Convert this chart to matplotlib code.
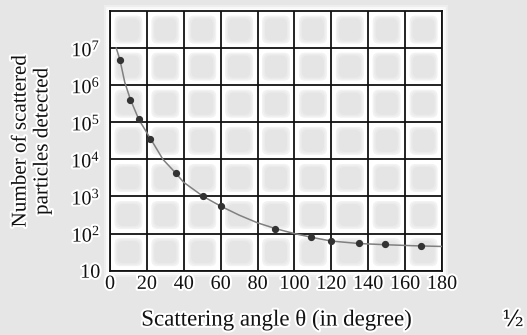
import numpy as np
import matplotlib
matplotlib.use("Agg")
import matplotlib.pyplot as plt
import matplotlib.patheffects as pe
from matplotlib.patches import FancyBboxPatch, Rectangle

# measured points (scattering angle in degree, counts)
theta_obs = [5.4, 11, 15.6, 21.9, 35.6, 50.6, 60, 89.6, 109, 119.7, 135.2, 149.3, 168.5]
n_obs = [4.8e6, 3.9e5, 1.2e5, 3.5e4, 4.3e3, 1.0e3, 550, 132, 79, 63, 55, 51, 47]

# smooth curve
theta_fit = [3.4, 5.4, 8, 11, 15.6, 20, 22, 28.7, 35.6, 40, 50.6, 60, 70, 80, 90,
             100, 110, 120, 135, 150, 165, 180]
n_fit = [1e7, 4.8e6, 1.2e6, 4.2e5, 1.2e5, 5.2e4, 3.6e4, 1e4, 4.3e3, 2.4e3, 1.0e3,
         550, 315, 195, 135, 100, 78, 63, 54, 50, 47, 45]

x_ticks = list(range(0, 181, 20))
y_ticks = [1e1, 1e2, 1e3, 1e4, 1e5, 1e6, 1e7]
y_ticklabels = ["10", "$10^{2}$", "$10^{3}$", "$10^{4}$", "$10^{5}$", "$10^{6}$", "$10^{7}$"]

plt.rcParams['font.family'] = ['Liberation Serif', 'DejaVu Serif']
plt.rcParams['mathtext.fontset'] = 'custom'
plt.rcParams['mathtext.rm'] = 'Liberation Serif'
plt.rcParams['mathtext.it'] = 'Liberation Serif:italic'

glow = [pe.withStroke(linewidth=3, foreground='white')]

fig = plt.figure(figsize=(5.27, 3.35), dpi=100)
fig.patch.set_facecolor('#e6e6e6')

W, H = 527, 335
left, right, top, bottom = 110, 442, 11, 270.7
ax = fig.add_axes([left / W, 1 - bottom / H, (right - left) / W, (bottom - top) / H])
ax.set_zorder(1)

# white halo around the plot box
for pad, a in [(6, 0.35), (4, 0.6), (2, 1.0)]:
    fig.patches.append(Rectangle(((left - pad) / W, 1 - (bottom + pad) / H),
                                 (right - left + 2 * pad) / W, (bottom - top + 2 * pad) / H,
                                 transform=fig.transFigure, facecolor='white', alpha=a,
                                 edgecolor='none', zorder=-1))

ax.set_facecolor('white')
ax.set_yscale('log')
ax.set_xlim(0, 180)
ax.set_ylim(10, 1e8)

# soft grey rounded squares in each cell
ncol, nrow = 9, 7
aw, ah = right - left, bottom - top
for i in range(ncol):
    for j in range(nrow):
        cx = (i + 0.5) / ncol
        cy = (j + 0.5) / nrow
        for size, col in [(28, '#f2f2f2'), (25, '#ebebeb'), (22, '#e5e5e5')]:
            w = size / aw
            h = size / ah
            ax.add_patch(FancyBboxPatch((cx - w / 2, cy - h / 2), w, h,
                                        boxstyle="round,pad=0,rounding_size=%f" % (6 / aw),
                                        mutation_aspect=aw / ah,
                                        transform=ax.transAxes, facecolor=col,
                                        edgecolor='none', zorder=0.5))

ax.set_xticks(x_ticks)
ax.set_yticks(y_ticks)
ax.set_yticklabels(y_ticklabels)
ax.yaxis.set_minor_locator(matplotlib.ticker.NullLocator())
ax.grid(True, color='#111111', linewidth=1.3, zorder=1)
ax.set_axisbelow(False)
for s in ax.spines.values():
    s.set_linewidth(1.3)
    s.set_color('#111111')
ax.tick_params(length=0, labelsize=14.5, colors='#111111')
ax.tick_params(axis='x', pad=3)
ax.tick_params(axis='y', pad=7)
for lab in ax.get_xticklabels() + ax.get_yticklabels():
    lab.set_path_effects(glow)

ax.plot(theta_fit, n_fit, color='#808080', linewidth=1.1, zorder=3)
ax.plot(theta_obs, n_obs, 'o', color='#333333', markersize=4.2, zorder=4)

fig.text(276 / W, 1 - 320 / H, "Scattering angle θ (in degree)", ha='center', va='center',
         fontsize=16.5, color='#111111', path_effects=glow)
fig.text(32 / W, 1 - 141 / H, "Number of scattered\nparticles detected", ha='center',
         va='center', rotation=90, fontsize=15.2, color='#111111', linespacing=1.2,
         multialignment='center', path_effects=glow)
fig.text(513 / W, 1 - 320 / H, "½", ha='center', va='center', fontsize=16,
         color='#111111', family=['DejaVu Serif'], path_effects=glow)

fig.savefig('out.png', dpi=100, facecolor=fig.get_facecolor())
